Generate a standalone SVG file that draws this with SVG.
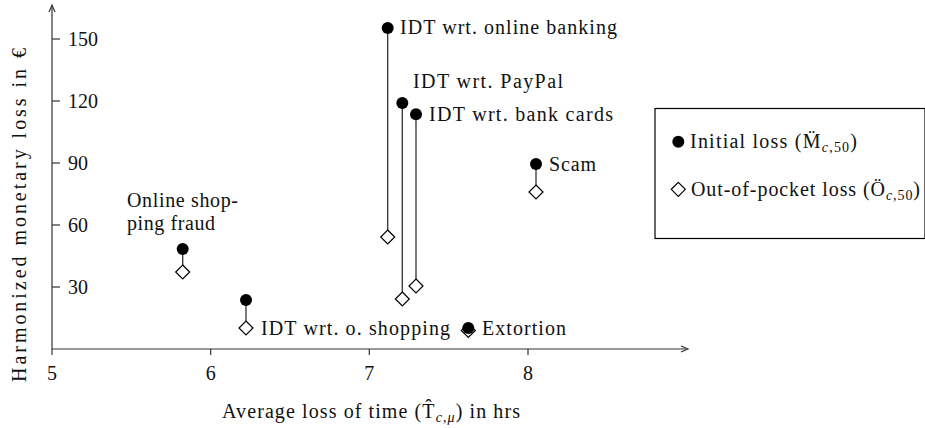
<svg xmlns="http://www.w3.org/2000/svg" width="925" height="428" viewBox="0 0 925 428" font-family="Liberation Serif, DejaVu Serif, serif" font-size="20">
<style>
text{fill:#111}
.ax{stroke:#333;stroke-width:1.2;fill:none}
.tk{stroke:#333;stroke-width:1.2}
.dot{fill:#000}
.dia{fill:#fff;stroke:#000;stroke-width:1.2}
.conn{stroke:#333;stroke-width:1.3}
.sub{font-size:14px}
.it{font-style:italic}
</style>
<defs>
<path id="d" d="M0,-7 L7,0 L0,7 L-7,0 Z"/>
</defs>
<rect width="925" height="428" fill="#fff"/>
<g id="axes">
<line class="ax" x1="52" y1="349" x2="52" y2="7"/>
<path class="ax" d="M49,12 L52,5 L55,12"/>
<line class="ax" x1="52" y1="349" x2="686" y2="349"/>
<path class="ax" d="M681,346 L688,349 L681,352"/>
<line class="tk" x1="52" y1="39" x2="60" y2="39"/>
<line class="tk" x1="52" y1="101" x2="60" y2="101"/>
<line class="tk" x1="52" y1="163" x2="60" y2="163"/>
<line class="tk" x1="52" y1="225" x2="60" y2="225"/>
<line class="tk" x1="52" y1="287" x2="60" y2="287"/>
<line class="tk" x1="52" y1="349" x2="52" y2="355"/>
<line class="tk" x1="210.7" y1="349" x2="210.7" y2="355"/>
<line class="tk" x1="369.3" y1="349" x2="369.3" y2="355"/>
<line class="tk" x1="528" y1="349" x2="528" y2="355"/>
<text x="68" y="46">150</text>
<text x="68" y="108">120</text>
<text x="68" y="170">90</text>
<text x="68" y="232">60</text>
<text x="68" y="294">30</text>
<text x="52" y="380" text-anchor="middle">5</text>
<text x="210.7" y="380" text-anchor="middle">6</text>
<text x="369.3" y="380" text-anchor="middle">7</text>
<text x="528" y="380" text-anchor="middle">8</text>
<text x="222" y="418" textLength="298">Average loss of time (T̂<tspan class="sub it" dy="4">c</tspan><tspan class="sub">,</tspan><tspan class="sub it">μ</tspan><tspan dy="-4">) in hrs</tspan></text>
<text transform="translate(26,215) rotate(-90)" text-anchor="middle" textLength="334">Harmonized monetary loss in €</text>
</g>
<g id="connectors">
<line class="conn" x1="182.7" y1="249" x2="182.7" y2="272"/>
<line class="conn" x1="246" y1="300" x2="246" y2="328"/>
<line class="conn" x1="387.7" y1="28" x2="387.7" y2="237"/>
<line class="conn" x1="402.3" y1="103" x2="402.3" y2="299"/>
<line class="conn" x1="416" y1="114.3" x2="416" y2="286"/>
<line class="conn" x1="536" y1="164" x2="536" y2="192"/>
<line class="conn" x1="468.3" y1="328" x2="468.3" y2="330.5"/>
</g>
<g id="online-shopping-fraud">
<use href="#d" class="dia" x="182.7" y="272"/>
<circle class="dot" cx="182.7" cy="249" r="6"/>
<text x="127" y="207" textLength="111">Online shop-</text>
<text x="127" y="230" textLength="88">ping fraud</text>
</g>
<g id="idt-o-shopping">
<use href="#d" class="dia" x="246" y="328"/>
<circle class="dot" cx="246" cy="300" r="6"/>
<text x="261" y="335" textLength="189">IDT wrt. o. shopping</text>
</g>
<g id="idt-online-banking">
<use href="#d" class="dia" x="387.7" y="237"/>
<circle class="dot" cx="387.7" cy="28" r="6"/>
<text x="400" y="34" textLength="217">IDT wrt. online banking</text>
</g>
<g id="idt-paypal">
<use href="#d" class="dia" x="402.3" y="299"/>
<circle class="dot" cx="402.3" cy="103" r="6"/>
<text x="413" y="88" textLength="150">IDT wrt. PayPal</text>
</g>
<g id="idt-bank-cards">
<use href="#d" class="dia" x="416" y="286"/>
<circle class="dot" cx="416" cy="114.3" r="6"/>
<text x="429" y="121" textLength="184">IDT wrt. bank cards</text>
</g>
<g id="scam">
<use href="#d" class="dia" x="536" y="192"/>
<circle class="dot" cx="536" cy="164" r="6"/>
<text x="549" y="171" textLength="47">Scam</text>
</g>
<g id="extortion">
<use href="#d" class="dia" x="468.3" y="330.5"/>
<circle class="dot" cx="468.3" cy="328" r="6"/>
<text x="482" y="335" textLength="84">Extortion</text>
</g>
<g id="legend">
<rect x="655" y="108.5" width="270" height="130" fill="#fff" stroke="#000" stroke-width="1.2"/>
<circle class="dot" cx="678.3" cy="141.7" r="6"/>
<text x="690" y="148" textLength="167">Initial loss (M̈<tspan class="sub it" dy="4">c</tspan><tspan class="sub">,50</tspan><tspan dy="-4">)</tspan></text>
<use href="#d" class="dia" x="678.3" y="189.3"/>
<text x="691" y="196" textLength="229">Out-of-pocket loss (Ö<tspan class="sub it" dy="4">c</tspan><tspan class="sub">,50</tspan><tspan dy="-4">)</tspan></text>
</g>
</svg>
